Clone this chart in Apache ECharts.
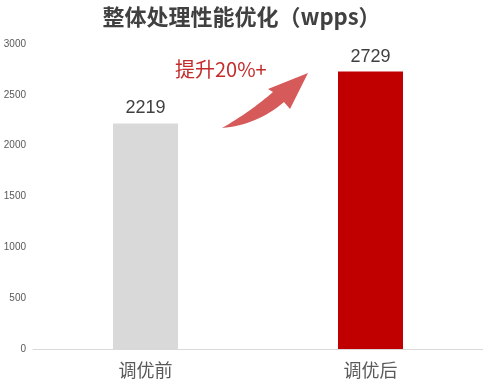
<!DOCTYPE html>
<html><head><meta charset="utf-8">
<script src="https://cdn.jsdelivr.net/npm/echarts@6/dist/echarts.min.js"></script>
<style>html,body{margin:0;padding:0;background:#fff}#c{width:483px;height:390px}</style>
</head><body><div id="c"></div>
<script>
var categories = ['调优前', '调优后'];
var values = [2219, 2729];
var barColors = ['#d9d9d9', '#c00000'];
var yTicks = [0, 500, 1000, 1500, 2000, 2500, 3000];
var titleText = '整体处理性能优化（wpps）';
var annotation = '提升20%+';

function quad(p0, c, p1, n) {
  var pts = [];
  for (var i = 0; i <= n; i++) {
    var t = i / n, u = 1 - t;
    pts.push([u * u * p0[0] + 2 * u * t * c[0] + t * t * p1[0], u * u * p0[1] + 2 * u * t * c[1] + t * t * p1[1]]);
  }
  return pts;
}
var arrowPts = quad([222, 128], [250, 112], [273, 92], 16)
  .concat([[268, 89], [308, 73], [290, 109]])
  .concat(quad([284, 102], [257, 125], [222, 128], 16));

var FONT = '"Liberation Sans", "Noto Sans CJK SC", sans-serif';
var chart = echarts.init(document.getElementById('c'));
chart.setOption({
  animation: false,
  backgroundColor: '#fff',
  title: {
    text: titleText, left: 'center', top: 1,
    textStyle: { fontFamily: '"Noto Sans CJK SC", sans-serif', fontSize: 22, fontWeight: 'bold', color: '#404040' }
  },
  grid: { left: 33, right: 0, top: 44, bottom: 41, containLabel: false },
  xAxis: {
    type: 'category', data: categories,
    axisLine: { lineStyle: { color: '#d9d9d9', width: 1 } },
    axisTick: { show: false },
    axisLabel: { fontFamily: '"Noto Sans CJK SC", sans-serif', fontSize: 18, color: '#595959', margin: 12 }
  },
  yAxis: {
    type: 'value', min: yTicks[0], max: yTicks[yTicks.length - 1], interval: 500,
    axisLine: { show: false }, axisTick: { show: false }, splitLine: { show: false },
    axisLabel: { fontFamily: FONT, fontSize: 10, color: '#595959', margin: 7, formatter: function (v) { return String(v); } }
  },
  series: [{
    type: 'bar', barWidth: 65,
    data: values.map(function (v, i) { return { value: v, itemStyle: { color: barColors[i] } }; }),
    label: { show: true, position: 'top', distance: 6, fontFamily: FONT, fontSize: 18, color: '#404040' }
  }],
  graphic: [
    { type: 'text', x: 175, y: 59, style: { text: annotation, font: '20px "Noto Sans CJK SC", sans-serif', fill: '#c42b2b' } },
    { type: 'polygon', shape: { points: arrowPts }, style: { fill: '#d65a5a' } }
  ]
});
</script></body></html>
